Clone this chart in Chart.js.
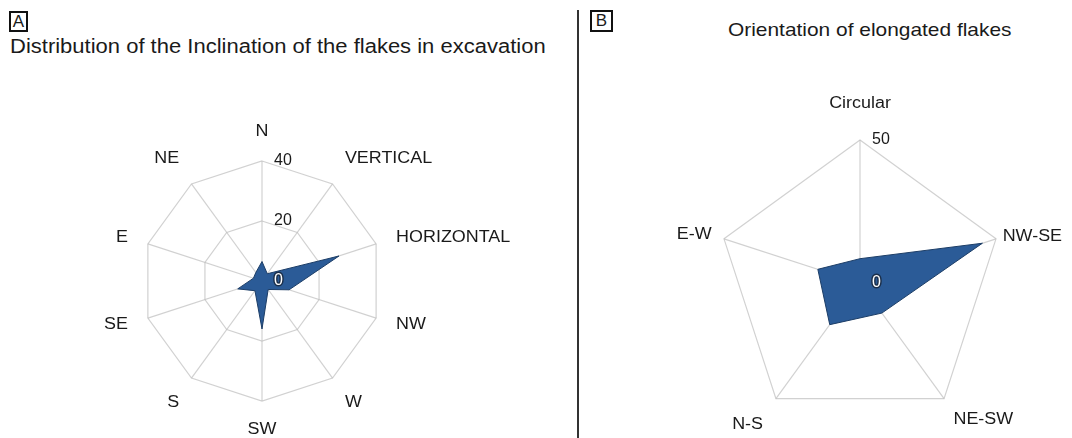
<!DOCTYPE html>
<html>
<head>
<meta charset="utf-8">
<script src="https://cdn.jsdelivr.net/npm/chart.js@4.4.1/dist/chart.umd.min.js"></script>
<style>
  body { margin: 0; background: #fff; width: 1072px; height: 438px; position: relative; overflow: hidden;
         font-family: "Liberation Sans", Arial, sans-serif; color: #1a1a1a; }
  .box { position: absolute; border: 2px solid #111; font-size: 17px; text-align: center; box-sizing: border-box; }
  .title { position: absolute; white-space: nowrap; transform: scaleX(1.1); transform-origin: left center; }
  #divider { position: absolute; left: 577px; top: 10px; width: 2px; height: 428px; background: #333; }
  .wrap { position: absolute; top: 0; }
</style>
</head>
<body>
<div class="box" style="left:9px;top:11px;width:19px;height:21px;line-height:17px;">A</div>
<div class="title" style="left:10px;top:35px;font-size:20px;">Distribution of the Inclination of the flakes in excavation</div>
<div id="divider"></div>
<div class="box" style="left:590px;top:10px;width:23px;height:22px;line-height:18px;">B</div>
<div class="title" style="left:728px;top:19px;font-size:19px;">Orientation of elongated flakes</div>

<div class="wrap" style="left:0;"><canvas id="chartA" width="576" height="438"></canvas></div>
<div class="wrap" style="left:580px;"><canvas id="chartB" width="492" height="438"></canvas></div>

<script>
// panel A: inclination
const labelsA = ["N", "VERTICAL", "HORIZONTAL", "NW", "W", "SW", "S", "SE", "E", "NE"];
const valuesA = [6.5, 3, 27, 9.5, 3.5, 16, 4, 8.5, 3, 3.5];
const ticksA = [0, 20, 40];

// panel B: orientation
const labelsB = ["Circular", "NW-SE", "NE-SW", "N-S", "E-W"];
const valuesB = [8.5, 45, 13, 18, 15.5];
const ticksB = [0, 50];

const FILL = "#2b5b97";
const EDGE = "#1c3d66";
const GRID = "rgba(190,190,190,0.7)";
const FONT = '16px "Liberation Sans", Arial, sans-serif';

// draws spoke labels and tick values from the scale geometry
const spokeText = {
  id: "spokeText",
  afterDraw(chart, args, opts) {
    const scale = chart.scales.r;
    const ctx = chart.ctx;
    ctx.save();
    ctx.font = opts.labelFont;
    ctx.fillStyle = "#1a1a1a";
    chart.data.labels.forEach((txt, i) => {
      const pad = Array.isArray(opts.pad) ? opts.pad[i] : opts.pad;
      const p = scale.getPointPosition(i, scale.drawingArea + pad);
      const a = p.angle + Math.PI / 2;
      const sx = Math.sin(a), cy = Math.cos(a);
      ctx.textAlign = Math.abs(sx) < 0.05 ? "center" : sx > 0 ? "left" : "right";
      ctx.textBaseline = cy > 0.5 ? "bottom" : cy < -0.5 ? "top" : "middle";
      ctx.save();
      ctx.translate(p.x, p.y);
      ctx.scale(opts.stretch, 1);
      ctx.fillText(txt, 0, 0);
      ctx.restore();
    });

    ctx.font = opts.tickFont;
    ctx.textAlign = "left";
    ctx.textBaseline = "middle";
    opts.ticks.forEach((v) => {
      const x = scale.xCenter + 12;
      const y = scale.yCenter - scale.getDistanceFromCenterForValue(v);
      if (v === 0) {
        ctx.lineWidth = 3;
        ctx.strokeStyle = "#1b2f4a";
        ctx.strokeText(String(v), x, y);
        ctx.fillStyle = "#fff";
      } else {
        ctx.fillStyle = "#1a1a1a";
      }
      ctx.fillText(String(v), x, y);
    });
    ctx.restore();
  },
};

function radar(el, labels, values, ticks, padding, textOpts) {
  return new Chart(el, {
    type: "radar",
    data: {
      labels: labels,
      datasets: [{
        data: values,
        backgroundColor: FILL,
        borderColor: EDGE,
        borderWidth: 1,
        pointRadius: 0,
        fill: true,
      }],
    },
    options: {
      responsive: false,
      animation: false,
      layout: { padding: padding },
      scales: {
        r: {
          min: ticks[0],
          max: ticks[ticks.length - 1],
          z: 1,
          ticks: { stepSize: ticks[1] - ticks[0], display: false },
          grid: { color: GRID, lineWidth: 1.2 },
          angleLines: { color: GRID, lineWidth: 1.2 },
          pointLabels: { display: false },
        },
      },
      plugins: {
        legend: { display: false },
        tooltip: { enabled: false },
        spokeText: Object.assign({ ticks: ticks }, textOpts),
      },
    },
    plugins: [spokeText],
  });
}

radar(document.getElementById("chartA"), labelsA, valuesA, ticksA,
  { left: 142, top: 161, right: 194, bottom: 37 },
  { pad: 21, stretch: 1.12, labelFont: FONT, tickFont: FONT });

radar(document.getElementById("chartB"), labelsB, valuesB, ticksB,
  { left: 137, top: 140, right: 69, bottom: 12 },
  { pad: [28, 7, 16, 22, 13], stretch: 1.12, labelFont: FONT, tickFont: FONT });
</script>
</body>
</html>
